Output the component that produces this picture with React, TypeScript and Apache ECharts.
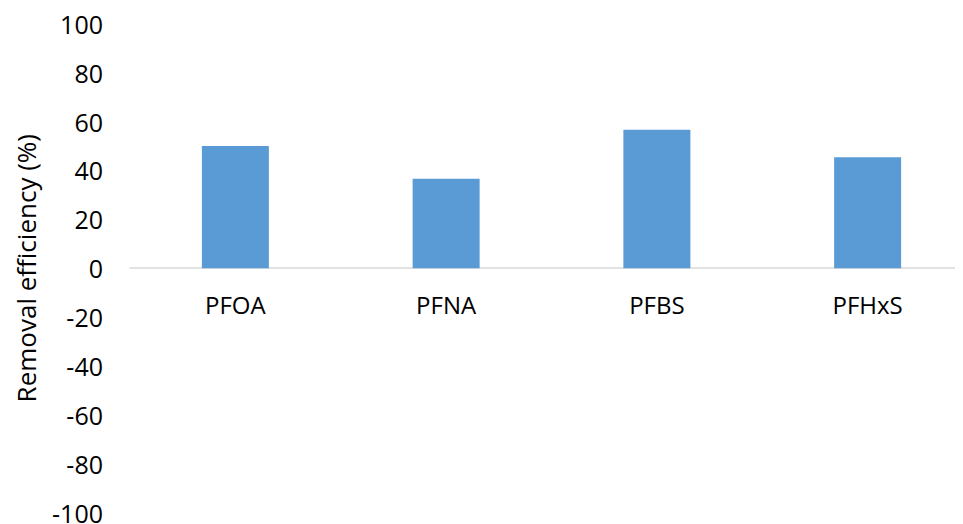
import React, { useEffect, useRef } from "react";
import * as echarts from "echarts";

const categories = ["PFOA", "PFNA", "PFBS", "PFHxS"];
const removalEfficiency = [50.0, 36.6, 56.6, 45.4];
const yMin = -100;
const yMax = 100;
const yStep = 20;

const FONT = "'Open Sans', 'Liberation Sans', sans-serif";

const GRID_TOP = 15.7;
const GRID_BOTTOM = 11.3;
const CHART_H = 516;
const plotHeight = CHART_H - GRID_TOP - GRID_BOTTOM;
// distance from the bottom of the plot to the zero line
const zeroOffset = (plotHeight * (0 - yMin)) / (yMax - yMin);

export default function App() {
  const ref = useRef<HTMLDivElement>(null);

  useEffect(() => {
    if (!ref.current) return;
    const chart = echarts.init(ref.current, null, { renderer: "svg" });
    chart.setOption({
      animation: false,
      backgroundColor: "#ffffff",
      textStyle: { fontFamily: FONT },
      grid: {
        left: 122,
        right: -18,
        top: GRID_TOP,
        bottom: GRID_BOTTOM,
        containLabel: false,
        outerBoundsMode: "none",
      },
      xAxis: {
        type: "category",
        data: categories,
        offset: -zeroOffset,
        axisLine: { show: true, onZero: false, lineStyle: { color: "#d9d9d9", width: 1.5 } },
        axisTick: { show: false },
        axisLabel: { color: "#000000", fontSize: 24, fontFamily: FONT, margin: 24 },
        splitLine: { show: false },
      },
      yAxis: {
        type: "value",
        min: yMin,
        max: yMax,
        interval: yStep,
        name: "Removal efficiency (%)",
        nameLocation: "middle",
        nameGap: 91,
        nameTextStyle: { color: "#000000", fontSize: 26, fontFamily: FONT },
        axisLine: { show: false },
        axisTick: { show: false },
        splitLine: { show: false },
        axisLabel: { color: "#000000", fontSize: 25, lineHeight: 20, fontFamily: FONT, margin: 27 },
      },
      series: [
        {
          type: "bar",
          data: removalEfficiency,
          barWidth: 67,
          itemStyle: { color: "#5b9bd5" },
        },
      ],
    });
    return () => chart.dispose();
  }, []);

  return <div ref={ref} style={{ width: 947, height: CHART_H }} />;
}
